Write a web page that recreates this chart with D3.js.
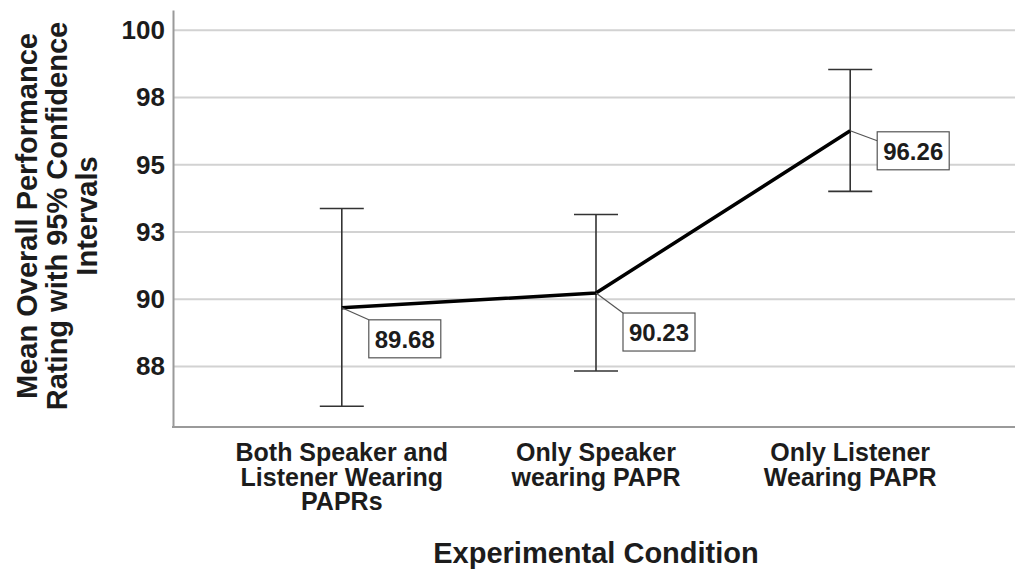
<!DOCTYPE html>
<html>
<head>
<meta charset="utf-8">
<script src="https://cdn.jsdelivr.net/npm/d3@7"></script>
<style>
  body { margin: 0; background: #fff; }
  svg { display: block; font-family: "Liberation Sans", Arial, sans-serif; font-weight: bold; }
</style>
</head>
<body>
<svg id="chart" width="1015" height="576"></svg>
<script>
// Data
const conditions = [
  ["Both Speaker and", "Listener Wearing", "PAPRs"],
  ["Only Speaker", "wearing PAPR"],
  ["Only Listener", "Wearing PAPR"]
];
const means = [89.68, 90.23, 96.26];
const ciLower = [86.02, 87.33, 94.01];
const ciUpper = [93.37, 93.15, 98.54];
const yTicks = [87.5, 90, 92.5, 95, 97.5, 100];

const svg = d3.select("#chart");
const plotLeft = 173, plotRight = 1019, plotTop = 10, plotBottom = 427;

let xScale = d3.scalePoint()
  .domain(d3.range(means.length))
  .range([plotLeft, plotRight])
  .padding(0.664);

let yScale = d3.scaleLinear()
  .domain([85.25, 100.75])
  .range([plotBottom, plotTop]);

// grid lines
svg.append("g")
  .selectAll("line")
  .data(yTicks)
  .join("line")
  .attr("x1", plotLeft)
  .attr("x2", 1015)
  .attr("y1", d => yScale(d))
  .attr("y2", d => yScale(d))
  .attr("stroke", "#d2d2d2")
  .attr("stroke-width", 2);

// y axis
let yAxis = d3.axisLeft(yScale)
  .tickValues(yTicks)
  .tickSize(0)
  .tickPadding(8)
  .tickFormat(d => Math.round(d));
let gy = svg.append("g")
  .attr("transform", "translate(" + plotLeft + ",0)")
  .call(yAxis);
gy.select(".domain").attr("stroke", "#9a9a9a").attr("stroke-width", 2);
gy.selectAll("text")
  .attr("font-size", 26)
  .attr("font-family", "Liberation Sans, Arial, sans-serif")
  .attr("font-weight", "bold")
  .attr("fill", "#1c1c1c");

// x axis line
svg.append("line")
  .attr("x1", plotLeft - 1)
  .attr("x2", 1015)
  .attr("y1", plotBottom)
  .attr("y2", plotBottom)
  .attr("stroke", "#9a9a9a")
  .attr("stroke-width", 2);

// x tick labels (multi-line)
let xLabels = svg.append("g")
  .selectAll("text")
  .data(conditions)
  .join("text")
  .attr("x", (d, i) => xScale(i))
  .attr("y", 461)
  .attr("text-anchor", "middle")
  .attr("font-size", 25)
  .attr("fill", "#1c1c1c");
xLabels.selectAll("tspan")
  .data(d => d)
  .join("tspan")
  .attr("x", function () { return this.parentNode.getAttribute("x"); })
  .attr("dy", (d, i) => i === 0 ? 0 : 24.5)
  .text(d => d);

// error bars
let errG = svg.append("g")
  .attr("stroke", "#333")
  .attr("stroke-width", 1.6);
means.forEach((m, i) => {
  let x = xScale(i);
  errG.append("line")
    .attr("x1", x).attr("x2", x)
    .attr("y1", yScale(ciLower[i])).attr("y2", yScale(ciUpper[i]));
  [ciLower[i], ciUpper[i]].forEach(v => {
    errG.append("line")
      .attr("x1", x - 22).attr("x2", x + 22)
      .attr("y1", yScale(v)).attr("y2", yScale(v));
  });
});

// mean line
let meanLine = d3.line()
  .x((d, i) => xScale(i))
  .y(d => yScale(d));
svg.append("path")
  .attr("d", meanLine(means))
  .attr("fill", "none")
  .attr("stroke", "#000")
  .attr("stroke-width", 3.5)
  .attr("stroke-linejoin", "round");

// value labels with leader lines
const labelDy = [12, 20, 1];
const boxW = 72, boxH = 38;
means.forEach((m, i) => {
  let px = xScale(i), py = yScale(m);
  let bx = px + 27, by = py + labelDy[i];
  svg.append("line")
    .attr("x1", px).attr("y1", py)
    .attr("x2", bx).attr("y2", Math.max(by, py + 10))
    .attr("stroke", "#555")
    .attr("stroke-width", 1.2);
  svg.append("rect")
    .attr("x", bx).attr("y", by)
    .attr("width", boxW).attr("height", boxH)
    .attr("fill", "#fff")
    .attr("stroke", "#555")
    .attr("stroke-width", 1.2);
  svg.append("text")
    .attr("x", bx + boxW / 2)
    .attr("y", by + 28)
    .attr("text-anchor", "middle")
    .attr("font-size", 24)
    .attr("fill", "#1c1c1c")
    .text(m.toFixed(2));
});

// axis titles
svg.append("text")
  .attr("x", 596)
  .attr("y", 563)
  .attr("text-anchor", "middle")
  .attr("font-size", 29)
  .attr("fill", "#1c1c1c")
  .text("Experimental Condition");

const yTitle = ["Mean Overall Performance", "Rating with 95% Confidence", "Intervals"];
svg.append("g")
  .attr("transform", "translate(37,216) rotate(-90)")
  .selectAll("text")
  .data(yTitle)
  .join("text")
  .attr("x", 0)
  .attr("y", (d, i) => i * 30)
  .attr("text-anchor", "middle")
  .attr("font-size", 29)
  .attr("fill", "#1c1c1c")
  .text(d => d);
</script>
</body>
</html>
